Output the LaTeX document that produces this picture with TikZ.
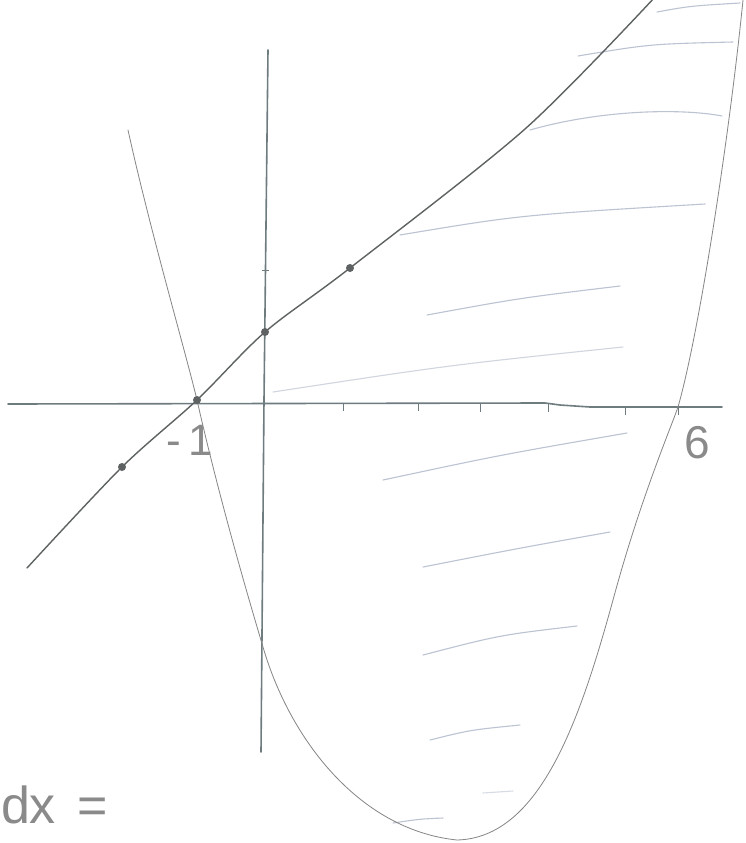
\documentclass[tikz,border=0pt]{standalone}
\usepackage{fontspec}
\setmainfont{Liberation Sans}
\begin{document}
\begin{tikzpicture}[x=1pt,y=-1pt,
  axisline/.style={draw=axcol,line width=1.6pt,line cap=round},
  graphline/.style={draw=lncol,line width=1.4pt,line cap=round},
  parab/.style={draw=pbcol,line width=0.8pt,line cap=round},
  hatch/.style={draw=htcol,line width=1.1pt,line cap=round},
  tickmark/.style={draw=axcol,line width=1pt},
  dotmark/.style={circle,fill=lncol,inner sep=0pt,minimum size=8pt},
  hand/.style={text=txcol,inner sep=0pt}]
\definecolor{axcol}{HTML}{6E7C80}
\definecolor{lncol}{HTML}{5E6262}
\definecolor{pbcol}{HTML}{858585}
\definecolor{htcol}{HTML}{BCC3D2}
\definecolor{txcol}{HTML}{8A8A8A}
\useasboundingbox[fill=white] (0,0) rectangle (745,843);

% hatching
\draw[hatch] (657,12) .. controls (690,6) .. (740,3);
\draw[hatch] (578,56) .. controls (650,44) .. (733,42);
\draw[hatch] (530,130) .. controls (600,110) and (680,108) .. (722,116);
\draw[hatch] (400,235) .. controls (520,215) .. (705,204);
\draw[hatch] (427,315) .. controls (520,298) .. (620,286);
\draw[hatch,draw=htcol!70] (273,392) .. controls (450,365) .. (623,347);
\draw[hatch] (383,480) .. controls (500,455) .. (627,433);
\draw[hatch] (423,567) .. controls (520,548) .. (610,532);
\draw[hatch] (423,655) .. controls (500,635) .. (577,626);
\draw[hatch] (430,740) .. controls (470,730) .. (520,725);
\draw[hatch,draw=htcol!60] (483,793) -- (513,791);
\draw[hatch] (393,823) .. controls (420,819) .. (443,818);

% axes
\draw[axisline] (8,404) -- (545,403) -- (560,405) -- (590,407) -- (722,407);
\draw[axisline] (268,50) -- (264,400) -- (261,752);
\foreach \tx/\ty in {343/403,418/403,480/404,548/404,625/407,678/407}
  \draw[tickmark] (\tx,\ty) -- (\tx,\ty+8);
\draw[tickmark] (262,270) -- (269,270);

% parabola
\draw[parab] (128,130) .. controls (150,230) and (185,350) .. (197,400)
  .. controls (215,480) and (240,570) .. (263,647)
  .. controls (290,740) and (360,830) .. (457,840)
  .. controls (540,838) and (580,720) .. (613,600)
  .. controls (640,500) and (670,430) .. (678,407)
  .. controls (700,330) and (730,130) .. (743,0);

% line
\coordinate (p1) at (122,467);
\coordinate (p2) at (197,400);
\coordinate (p3) at (265,332);
\coordinate (p4) at (350,268);
\draw[graphline] plot[smooth,tension=0.5] coordinates
  {(27,568) (122,467) (197,400) (265,332) (350,268) (525,129) (655,-3)};
\node[dotmark] (d1) at (p1) {};
\node[dotmark] (d2) at (p2) {};
\node[dotmark] (d3) at (p3) {};
\node[dotmark] (d4) at (p4) {};

% labels
\node[hand,anchor=base] (lm1) at (190,455) {\fontsize{44}{44}\selectfont -\,1};
\node[hand,anchor=base] (l6) at (697,458) {\fontsize{46}{46}\selectfont 6};
\node[hand,anchor=base west] (ldx) at (1,823) {\fontsize{52}{52}\selectfont d\kern-1pt x\kern22pt =};
\end{tikzpicture}
\end{document}
